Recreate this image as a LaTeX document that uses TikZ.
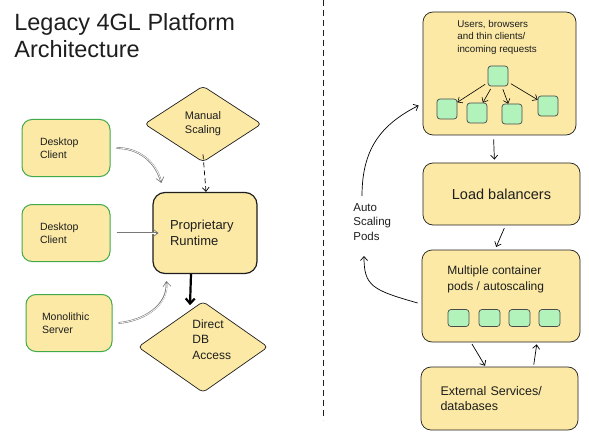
\documentclass[tikz,border=0pt]{standalone}
\usepackage{fontspec}
\setmainfont{Liberation Sans}
\usepackage{xcolor}
\usetikzlibrary{shapes.geometric,arrows.meta}
\definecolor{ink}{HTML}{1E1E1E}
\definecolor{paleyellow}{HTML}{FBE9A5}
\definecolor{leafgreen}{HTML}{40A94A}
\definecolor{mint}{HTML}{B2F2BB}

\begin{document}
\begin{tikzpicture}[x=1pt, y=-1pt, line width=0.7pt, >={Straight Barb[length=4pt,width=7pt]},
    every node/.style={inner sep=0pt, text=ink},
    box/.style={rectangle, draw=ink, fill=paleyellow, rounded corners=10pt},
    client/.style={box, draw=leafgreen, line width=1pt, minimum width=88pt, minimum height=57pt, align=left, font=\fontsize{10.5}{13}\selectfont},
    gem/.style={diamond, draw=ink, fill=paleyellow, rounded corners=4pt},
    pod/.style={rectangle, draw=ink!80, fill=mint, rounded corners=3pt},
    dbl/.style={draw=ink!60, line width=1.8pt, -{Straight Barb[length=5pt,width=8pt,line width=0.6pt]},
        postaction={draw=white, line width=0.7pt, shorten >=2.5pt, -}}]
    \useasboundingbox (0,0) rectangle (589,441);

    % Title
    \node[anchor=north west, align=left, font=\fontsize{23.5}{27}\selectfont] (title) at (14,13) {Legacy 4GL Platform\\Architecture};

    % Divider
    \draw[dashed, dash pattern=on 6pt off 4pt, line width=1pt, ink] (323,0) -- (323,420);

    % Legacy side
    \node[client, text width=52pt] (dca) at (66,148) {Desktop\\Client};
    \node[client, text width=52pt] (dcb) at (66,233) {Desktop\\Client};
    \node[client, text width=54pt, minimum width=86pt] (mono) at (69,323) {Monolithic\\Server};
    \node[gem, minimum width=117pt, minimum height=76pt, align=center, font=\fontsize{11}{14}\selectfont] (msc) at (203,124) {Manual\\Scaling};
    \node[box, line width=1.2pt, rounded corners=12pt, minimum width=104pt, minimum height=81pt, text width=70pt, align=left, font=\fontsize{13}{15.5}\selectfont] (rt) at (205,233) {Proprietary\\Runtime};
    \node[gem, minimum width=130pt, minimum height=91pt] (db) at (203,347) {};
    \node[anchor=north west, align=left, font=\fontsize{12}{15.5}\selectfont] (dbtxt) at (192,319) {Direct\\DB\\Access};

    \draw[dbl] ([xshift=6pt]dca.east) to[out=0, in=105] ([xshift=9pt,yshift=9pt]rt.north west);
    \draw[dbl] ([xshift=6pt]dcb.east) -- ([xshift=6pt]rt.west);
    \draw[dbl] ([xshift=6pt]mono.east) to[out=5, in=-85] ([xshift=14pt,yshift=-7pt]rt.south west);
    \draw[->, dashed, dash pattern=on 5pt off 3pt] ([yshift=8pt]msc.south) -- ([xshift=1pt]rt.north);
    \draw[->, line width=2.2pt, >={Straight Barb[length=5pt,width=9pt]}] ([xshift=-14pt]rt.south) -- ([xshift=-13pt,yshift=-4pt]db.north);

    % Cloud side
    \node[box, minimum width=153pt, minimum height=123pt] (usr) at (499.5,73.5) {};
    \node[anchor=north west, align=left, font=\fontsize{9.8}{12.3}\selectfont] (usrtxt) at (457,20) {Users, browsers\\and thin clients/\\incoming requests};
    \node[pod, minimum size=20pt] (u0) at (498,76) {};
    \node[pod, minimum size=20pt] (u1) at (447,109) {};
    \node[pod, minimum size=20pt] (u2) at (477,113) {};
    \node[pod, minimum size=20pt] (u3) at (512,114) {};
    \node[pod, minimum size=20pt] (u4) at (548,106) {};
    \foreach \s in {u1,u2,u3,u4}
    \draw[->, line width=0.6pt, shorten <=3pt] (u0) -- (\s);

    \node[box, minimum width=157pt, minimum height=62pt, font=\fontsize{14.5}{17}\selectfont] (lb) at (501.5,194) {Load balancers};
    \node[box, minimum width=158pt, minimum height=92pt] (pods) at (501,296) {};
    \node[anchor=north west, align=left, font=\fontsize{12}{16}\selectfont] (podstxt) at (447,265) {Multiple container\\pods / autoscaling};
    \foreach \i/\x in {1/458.5, 2/489.5, 3/519.5, 4/549.5}
    \node[pod, minimum width=21pt, minimum height=17pt] (p\i) at (\x,318) {};
    \node[box, minimum width=157pt, minimum height=63pt, text width=118pt, align=left, font=\fontsize{12.5}{15}\selectfont] (ext) at (499.5,398.5) {External Services/\\databases};

    \node[anchor=north west, align=left, font=\fontsize{11.5}{14.5}\selectfont] (auto) at (353,203) {Auto\\Scaling\\Pods};
    \coordinate (aup) at (362,196);
    \coordinate (adn) at (364,256);

    \draw[->, shorten <=4pt, shorten >=3pt] ([xshift=-6pt]usr.south) -- ([xshift=-7pt]lb.north);
    \draw[->, shorten <=3pt, shorten >=3pt] ([xshift=4pt]lb.south) -- ([xshift=-6pt]pods.north);
    \draw[->, shorten <=2pt, shorten >=1pt] ([xshift=-30pt]pods.south) -- ([xshift=-14pt]ext.north);
    \draw[->, shorten <=2pt, shorten >=2pt] ([xshift=34pt]ext.north) -- ([xshift=36pt]pods.south);
    \draw[->] ([xshift=-4pt,yshift=-7pt]pods.west) .. controls (372,290) and (364,286) .. (adn);
    \draw[->] (aup) .. controls (362,150) and (380,125) .. ([xshift=-4pt,yshift=-32pt]usr.west);
\end{tikzpicture}
\end{document}
